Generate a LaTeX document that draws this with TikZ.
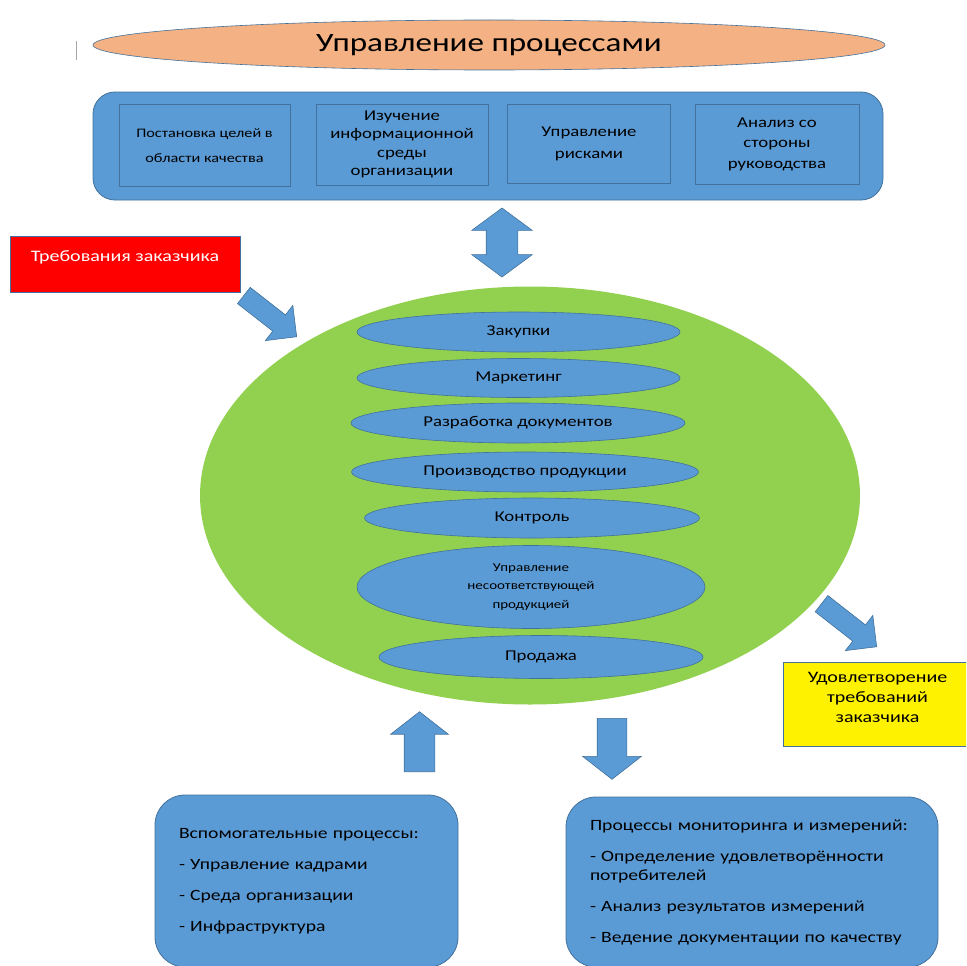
\documentclass[tikz,border=0pt]{standalone}
\usepackage{fontspec}
\setmainfont[FakeStretch=1.25]{Carlito}
\usetikzlibrary{shapes.geometric,shapes.arrows,positioning}
\definecolor{boxblue}{HTML}{5B9BD5}
\definecolor{edgeblue}{HTML}{41719C}
\definecolor{peach}{HTML}{F4B183}
\definecolor{leafgreen}{HTML}{92D050}

\begin{document}
\begin{tikzpicture}[
	x=1pt,y=-1pt,
	oval/.style={ellipse,draw=edgeblue,fill=boxblue,line width=0.6pt,inner sep=0,align=center,font=\fontsize{15}{18}\selectfont},
	cell/.style={rectangle,draw=edgeblue,fill=boxblue,line width=0.8pt,inner sep=0,align=center},
	panel/.style={rectangle,draw=edgeblue,fill=boxblue,line width=0.8pt,align=left,font=\fontsize{15.7}{19}\selectfont},
	fat/.style={single arrow,draw=edgeblue,fill=boxblue,line width=0.6pt,inner xsep=0,single arrow tip angle=#1},
	fat/.default=90,
	tag/.style={rectangle,draw=edgeblue,line width=0.6pt,inner sep=0},
]
\useasboundingbox (0,0) rectangle (966,966);
\clip (0,0) rectangle (966,966);
\draw[gray!70,line width=0.6pt] (76,41) -- (76,60);

% top
\node[ellipse,draw=edgeblue,fill=peach,line width=0.6pt,minimum width=792,minimum height=50,font=\fontsize{26.5}{30}\selectfont] (title) at (489,45) {Управление процессами};
\node[rectangle,rounded corners=22,draw=edgeblue,fill=boxblue,line width=0.8pt,minimum width=790,minimum height=108] (mgmt) at (488,146) {};
\node[cell,minimum width=171,minimum height=82,font=\fontsize{13}{25}\selectfont] (goals) at (204.5,145.5) {Постановка целей в\\области качества};
\node[cell,minimum width=172,minimum height=81,font=\fontsize{15}{18.3}\selectfont] (env) at (402,144.5) {Изучение\\информационной\\среды\\организации};
\node[cell,minimum width=163,minimum height=79,font=\fontsize{15}{22}\selectfont] (risk) at (589,143.5) {Управление\\рисками};
\node[cell,minimum width=164,minimum height=80,font=\fontsize{15}{20.5}\selectfont] (review) at (777,144) {Анализ со\\стороны\\руководства};
\node[double arrow,draw=edgeblue,fill=boxblue,line width=0.6pt,inner xsep=0,inner ysep=15.5,rotate=90,minimum height=69,double arrow head extend=14.5,double arrow tip angle=107] (link) at (502,242.5) {};

% customer
\node[tag,fill=red,minimum width=230,minimum height=56] (req) at (125,264) {};
\node[text=white,font=\fontsize{16}{18}\selectfont] (reqtext) at ([yshift=7pt]req.center) {Требования заказчика};
\node[fat,rotate=-38,inner ysep=10,minimum height=67,single arrow head extend=12,anchor=tip] (inarr) at (297,337) {};

% processes
\node[ellipse,fill=leafgreen,minimum width=660,minimum height=418] (proc) at (530,495.5) {};
\node[oval,minimum width=323,minimum height=40] (buy) at (518.5,332) {Закупки};
\node[oval,minimum width=323,minimum height=39] (mkt) at (518.5,378) {Маркетинг};
\node[oval,minimum width=334,minimum height=40] (docs) at (518,423) {Разработка документов};
\node[oval,minimum width=347,minimum height=40] (make) at (525,472) {Производство продукции};
\node[oval,minimum width=335,minimum height=40] (check) at (532,518) {Контроль};
\node[oval,minimum width=348,minimum height=83,font=\fontsize{12}{18.5}\selectfont] (nonconf) at (531,587) {Управление\\несоответствующей\\продукцией};
\node[oval,minimum width=324,minimum height=43] (sale) at (541,657) {Продажа};

% result
\node[fat,rotate=-38,inner ysep=10,minimum height=70,single arrow head extend=12,anchor=tip] (outarr) at (877,647) {};
\node[tag,fill=yellow,minimum width=189,minimum height=84] (sat) at (877.5,704) {};
\node[align=center,font=\fontsize{16}{20}\selectfont] (sattext) at ([yshift=7pt]sat.center) {Удовлетворение\\требований\\заказчика};

% bottom
\node[fat=104,rotate=90,inner ysep=15,minimum height=60,single arrow head extend=13.5,anchor=tail] (uparr) at (419.5,772) {};
\node[fat=104,rotate=-90,inner ysep=14.5,minimum height=61,single arrow head extend=14.5,anchor=tail] (downarr) at (612,718) {};
\node[panel,rounded corners=30,minimum width=303,minimum height=172,text width=255] (support) at (306.5,881) {Вспомогательные процессы:\\[12pt]- Управление кадрами\\[12pt]- Среда организации\\[12pt]- Инфраструктура};
\node[panel,rounded corners=30,minimum width=372,minimum height=170,text width=324] (monitor) at (752,882) {Процессы мониторинга и измерений:\\[12pt]- Определение удовлетворённости\\потребителей\\[12pt]- Анализ результатов измерений\\[12pt]- Ведение документации по качеству};
\end{tikzpicture}
\end{document}
